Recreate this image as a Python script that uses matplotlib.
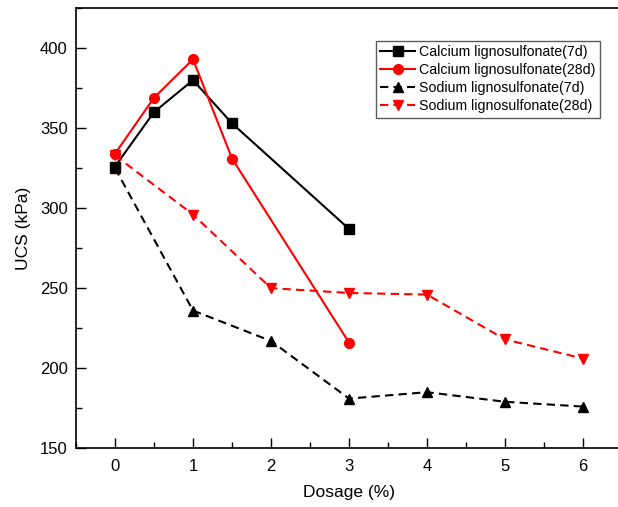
import matplotlib
matplotlib.use("Agg")
import matplotlib.pyplot as plt
from matplotlib.ticker import MultipleLocator

plt.rcParams['font.family'] = ['Liberation Sans', 'DejaVu Sans']

# data
ca_x = [0, 0.5, 1, 1.5, 3]
ca_7d = [326, 360, 380, 353, 287]
ca_28d = [334, 369, 393, 331, 216]

na_x = [0, 1, 2, 3, 4, 5, 6]
na_7d = [325, 236, 217, 181, 185, 179, 176]
na_28d = [333, 296, 250, 247, 246, 218, 206]

labels = ['Calcium lignosulfonate(7d)', 'Calcium lignosulfonate(28d)',
          'Sodium lignosulfonate(7d)', 'Sodium lignosulfonate(28d)']

fig = plt.figure(figsize=(6.18, 5.07), dpi=100)
ax = fig.add_axes([0.123, 0.116, 0.8835, 0.868])

dash = (0, (4, 2.5))
ax.plot(ca_x, ca_7d, color='black', lw=1.5, marker='s', ms=6.5, label=labels[0])
ax.plot(ca_x, ca_28d, color='red', lw=1.5, marker='o', ms=7, label=labels[1])
ax.plot(na_x, na_7d, color='black', lw=1.5, ls=dash, marker='^', ms=7.5, label=labels[2])
ax.plot(na_x, na_28d, color='red', lw=1.5, ls=dash, marker='v', ms=7.5, label=labels[3])

ax.set_xlim(-0.5, 6.5)
ax.set_ylim(150, 425)
ax.xaxis.set_major_locator(MultipleLocator(1))
ax.xaxis.set_minor_locator(MultipleLocator(0.5))
ax.yaxis.set_major_locator(MultipleLocator(50))
ax.yaxis.set_minor_locator(MultipleLocator(25))
ax.tick_params(which='major', direction='in', length=7, width=1, labelsize=12, pad=8)
ax.tick_params(which='minor', direction='in', length=4, width=1)
ax.tick_params(axis='y', pad=6)
for s in ax.spines.values():
    s.set_linewidth(1.2)
ax.spines['right'].set_visible(False)

ax.set_xlabel('Dosage (%)', fontsize=12.5, labelpad=8)
ax.set_ylabel('UCS (kPa)', fontsize=12.5, labelpad=6)

leg = ax.legend(loc='upper left', bbox_to_anchor=(0.549, 0.925), fontsize=10.2,
                frameon=True, fancybox=False, edgecolor='#333333', handlelength=2.5,
                borderpad=0.3, labelspacing=0.28, handletextpad=0.25, borderaxespad=0)
leg.get_frame().set_linewidth(1.0)

fig.savefig('out.png', dpi=100)
